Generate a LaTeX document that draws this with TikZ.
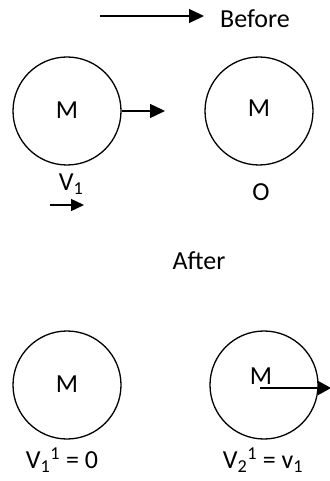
\documentclass[tikz,border=0pt]{standalone}
\usepackage{fontspec}
\setmainfont{Carlito}
\usetikzlibrary{arrows.meta}
\begin{document}
\begin{tikzpicture}[x=1pt,y=-1pt,
  ball/.style={draw, line width=1.3pt, circle, minimum size=108pt, inner sep=0pt},
  lbl/.style={font=\fontsize{26}{30}\selectfont, inner sep=0pt},
  arr/.style={line width=1.4pt, -{Triangle[length=15pt,width=14pt]}}]
\useasboundingbox (0,0) rectangle (329,481);
% top
\coordinate (ta) at (100,16);
\coordinate (tb) at (204,16);
\draw[arr] (ta) -- (tb);
\node[lbl] (before) at (255,19) {Before};
% before balls
\node[ball] (b1) at (67,111) {};
\node[lbl] (m1) at (67,110) {M};
\node[ball] (b2) at (259,111) {};
\node[lbl] (m2) at (259,108) {M};
\coordinate (a1) at (165,111);
\draw[arr] (b1.east) -- (a1);
\node[lbl] (v1) at (71,184) {V\textsubscript{1}};
\coordinate (s1) at (50,205);
\coordinate (s2) at (84,205);
\draw[arr, -{Triangle[length=13pt,width=12pt]}] (s1) -- (s2);
\node[lbl] (o) at (261,192) {O};
% after
\node[lbl] (after) at (199,261) {After};
\node[ball] (c1) at (67,385) {};
\node[lbl] (m3) at (67,384) {M};
\node[ball] (c2) at (264,385) {};
\node[lbl] (m4) at (261,376) {M};
\coordinate (c2s) at (260,388);
\coordinate (c2e) at (331,388);
\draw[arr, -{Triangle[length=13pt,width=14pt]}] (c2s) -- (c2e);
\node[lbl] (v11) at (62,460) {V\textsubscript{1}\textsuperscript{1} = 0};
\node[lbl] (v21) at (263,460) {V\textsubscript{2}\textsuperscript{1} = v\textsubscript{1}};
\end{tikzpicture}
\end{document}
